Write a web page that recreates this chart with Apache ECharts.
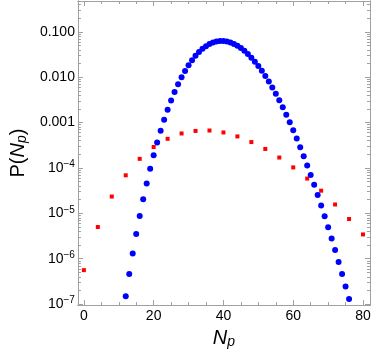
<!DOCTYPE html>
<html>
<head>
<meta charset="utf-8">
<script src="https://cdn.jsdelivr.net/npm/echarts@6/dist/echarts.min.js"></script>
<style>
  html, body { margin: 0; padding: 0; background: #fff; }
  #chart { width: 374px; height: 354px; }
</style>
</head>
<body>
<div id="chart"></div>
<script>
// blue dots, one per N_p from 12 to 76
const blueNp = [12, 13, 14, 15, 16, 17, 18, 19, 20, 21, 22, 23, 24, 25, 26, 27, 28, 29, 30,
  31, 32, 33, 34, 35, 36, 37, 38, 39, 40, 41, 42, 43, 44, 45, 46, 47, 48, 49, 50,
  51, 52, 53, 54, 55, 56, 57, 58, 59, 60, 61, 62, 63, 64, 65, 66, 67, 68, 69, 70,
  71, 72, 73, 74, 75, 76];
const blueP = [1.49e-7, 4.58e-7, 1.31e-6, 3.49e-6, 8.72e-6, 2.05e-5, 4.56e-5, 9.60e-5, 1.92e-4,
  3.66e-4, 6.65e-4, 1.16e-3, 1.93e-3, 3.08e-3, 4.74e-3, 7.03e-3, 1.00e-2, 1.38e-2, 1.85e-2,
  2.38e-2, 2.98e-2, 3.61e-2, 4.25e-2, 4.85e-2, 5.39e-2, 5.83e-2, 6.14e-2, 6.29e-2, 6.29e-2,
  6.14e-2, 5.85e-2, 5.44e-2, 4.95e-2, 4.40e-2, 3.82e-2, 3.25e-2, 2.71e-2, 2.21e-2, 1.77e-2,
  1.39e-2, 1.07e-2, 8.06e-3, 5.97e-3, 4.34e-3, 3.10e-3, 2.18e-3, 1.50e-3, 1.02e-3, 6.79e-4,
  4.45e-4, 2.87e-4, 1.82e-4, 1.14e-4, 7.01e-5, 4.25e-5, 2.54e-5, 1.49e-5, 8.65e-6, 4.94e-6,
  2.78e-6, 1.55e-6, 8.48e-7, 4.58e-7, 2.44e-7, 1.29e-7];

// red squares, every 4th N_p
const redNp = [0, 4, 8, 12, 16, 20, 24, 28, 32, 36, 40, 44, 48, 52, 56, 60, 64, 68, 72, 76, 80];
const redP = [5.6e-7, 5.0e-6, 2.35e-5, 6.9e-5, 1.59e-4, 2.9e-4, 4.4e-4, 5.77e-4, 6.56e-4,
  6.7e-4, 6.07e-4, 4.97e-4, 3.73e-4, 2.63e-4, 1.70e-4, 1.03e-4, 5.85e-5, 3.16e-5,
  1.57e-5, 7.5e-6, 3.43e-6];

const xTicks = [0, 20, 40, 60, 80];
const xMinorTicks = [5, 10, 15, 25, 30, 35, 45, 50, 55, 65, 70, 75];
const yTicks = [1e-7, 1e-6, 1e-5, 1e-4, 1e-3, 1e-2, 1e-1];

const xMin = -1.7, xMax = 82;
const yMin = 9.5e-8, yMax = 0.48;

// minor ticks on the log axis at 2..9 x 10^k
let yMinorTicks = [];
for (let k = -7; k <= -1; k++) {
  for (let m = 2; m <= 9; m++) {
    let v = m * Math.pow(10, k);
    if (v > yMin && v < yMax) yMinorTicks.push(v);
  }
}

const frameColor = '#a0a0a0';
const font = 'Liberation Sans';

function yLabel(v) {
  if (v >= 0.00099) return v.toFixed(3);
  let e = Math.round(Math.log10(v));
  return '10{sup|\u2212' + (-e) + '}';
}

function xAx(pos, ticks, len, labels, extra) {
  return Object.assign({
    type: 'value', position: pos, min: xMin, max: xMax,
    axisLine: { show: true, onZero: false, lineStyle: { color: frameColor, width: 1 } },
    axisTick: { show: true, inside: true, length: len, customValues: ticks, lineStyle: { color: frameColor } },
    axisLabel: labels ? {
      customValues: ticks, color: '#000', fontFamily: font, fontSize: 14, margin: 4
    } : { show: false },
    splitLine: { show: false }
  }, extra || {});
}

function yAx(pos, ticks, len, labels, extra) {
  return Object.assign({
    type: 'log', logBase: 10, position: pos, min: yMin, max: yMax,
    axisLine: { show: true, onZero: false, lineStyle: { color: frameColor, width: 1 } },
    axisTick: { show: true, inside: true, length: len, customValues: ticks, lineStyle: { color: frameColor } },
    axisLabel: labels ? {
      customValues: ticks, color: '#000', fontFamily: font, fontSize: 14, margin: 3,
      formatter: yLabel,
      rich: { sup: { fontFamily: font, fontSize: 10, color: '#000', padding: [0, 0, 7, 0] } }
    } : { show: false },
    splitLine: { show: false }
  }, extra || {});
}

const chart = echarts.init(document.getElementById('chart'), null, { renderer: 'canvas' });

const option = {
  animation: false,
  backgroundColor: '#fff',
  grid: { left: 62, right: 4, top: 1, bottom: 45, containLabel: false },
  xAxis: [
    xAx('bottom', xTicks, 5, true, {
      name: '{i|N}{s|p}', nameLocation: 'middle', nameGap: 20,
      nameTextStyle: {
        color: '#000', fontFamily: font, fontSize: 20,
        rich: {
          i: { fontFamily: font, fontSize: 20, fontStyle: 'italic', color: '#000' },
          s: { fontFamily: font, fontSize: 14, fontStyle: 'italic', color: '#000', padding: [8, 0, 0, 0] }
        }
      }
    }),
    xAx('bottom', xMinorTicks, 3, false),
    xAx('top', xTicks, 5, false),
    xAx('top', xMinorTicks, 3, false)
  ],
  yAxis: [
    yAx('left', yTicks, 5, true, {
      name: 'P({i|N}{s|p})', nameLocation: 'middle', nameRotate: 90, nameGap: 40,
      nameTextStyle: {
        color: '#000', fontFamily: font, fontSize: 20,
        rich: {
          i: { fontFamily: font, fontSize: 20, fontStyle: 'italic', color: '#000' },
          s: { fontFamily: font, fontSize: 14, fontStyle: 'italic', color: '#000', padding: [8, 0, 0, 0] }
        }
      }
    }),
    yAx('left', yMinorTicks, 3, false),
    yAx('right', yTicks, 5, false),
    yAx('right', yMinorTicks, 3, false)
  ],
  series: [
    {
      name: 'red',
      type: 'scatter',
      xAxisIndex: 0, yAxisIndex: 0,
      symbol: 'rect',
      symbolSize: 4,
      itemStyle: { color: '#ff0000', opacity: 1 },
      data: redNp.map((x, i) => [x, redP[i]])
    },
    {
      name: 'blue',
      type: 'scatter',
      xAxisIndex: 0, yAxisIndex: 0,
      symbol: 'circle',
      symbolSize: 6,
      itemStyle: { color: '#0000ff', opacity: 1 },
      data: blueNp.map((x, i) => [x, blueP[i]])
    }
  ]
};

chart.setOption(option);
</script>
</body>
</html>
